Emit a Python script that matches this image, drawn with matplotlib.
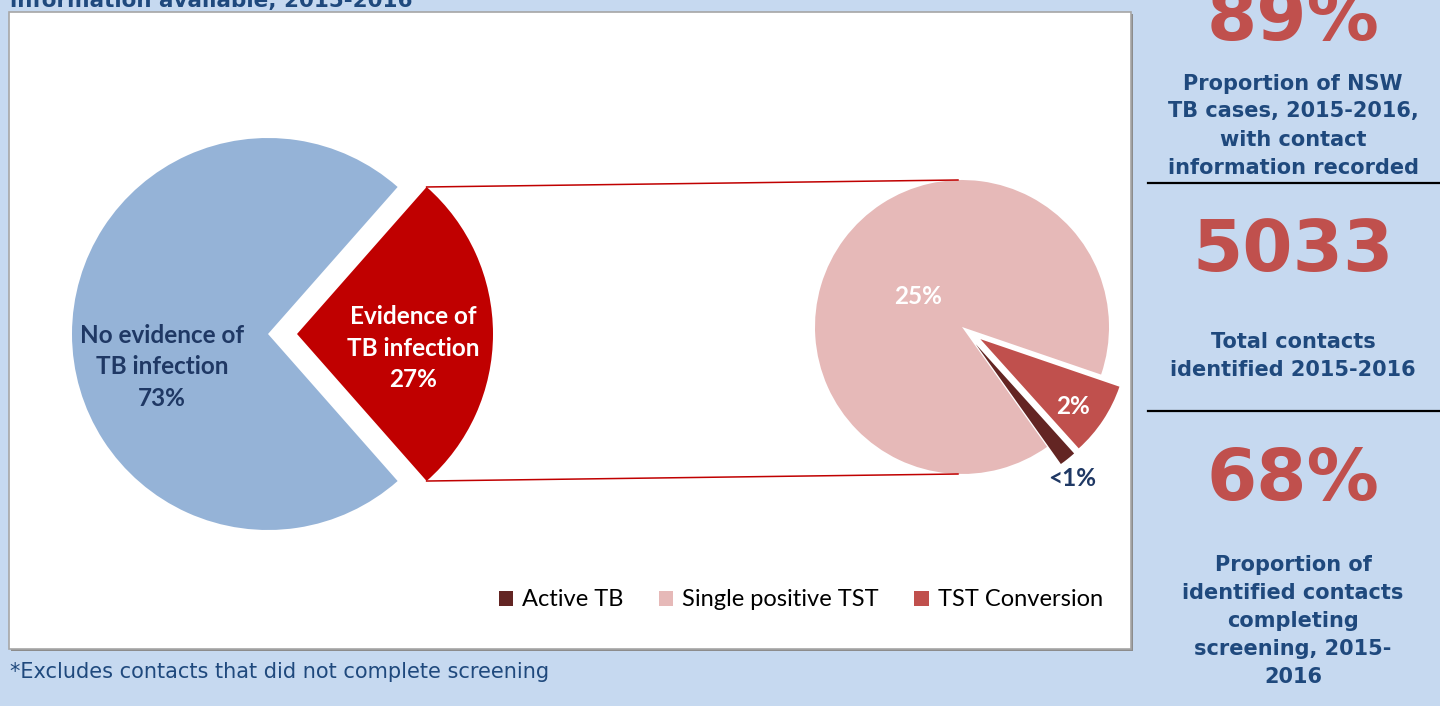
import matplotlib.pyplot as plt
from matplotlib.patches import Rectangle
from matplotlib import font_manager
import numpy as np

# main split of screened contacts
main_labels = ['No evidence of\nTB infection', 'Evidence of\nTB infection']
main_values = [73, 27]
main_colors = ['#95b3d7', '#c00000']

# breakdown of "evidence of TB infection"
sub_labels = ['Active TB', 'Single positive TST', 'TST Conversion']
sub_values = [0.5, 24.5, 2.2]
sub_text = ['<1%', '25%', '2%']
sub_colors = ['#632523', '#e6b9b8', '#c0504d']

# headline figures on the right
stat_values = ['89%', '5033', '68%']
stat_captions = ['Proportion of NSW\nTB cases, 2015-2016,\nwith contact\ninformation recorded',
                 'Total contacts\nidentified 2015-2016',
                 'Proportion of\nidentified contacts\ncompleting\nscreening, 2015-\n2016']

BG = '#c6d9f0'
NAVY = '#1f497d'
DARKNAVY = '#1f3864'
STATRED = '#c0504d'

names = {f.name for f in font_manager.fontManager.ttflist}
narrow = 'Liberation Sans Narrow' if 'Liberation Sans Narrow' in names else 'DejaVu Sans'
calibri_like = 'Lato'

W, H = 1440, 706
def Y(sy):
    return H - sy

fig = plt.figure(figsize=(W / 100, H / 100), dpi=100, facecolor=BG)
ax = fig.add_axes([0, 0, 1, 1])
ax.set_facecolor(BG)

# chart area with a small shadow
ax.add_patch(Rectangle((11, Y(651)), 1122, 637, facecolor='#8c8c8c', edgecolor='none', zorder=0))
ax.add_patch(Rectangle((9, Y(649)), 1122, 637, facecolor='white', edgecolor='#a6a6a6', lw=1.2, zorder=0.5))

# left pie
start_main = 360 * main_values[1] / sum(main_values) / 2
wl, _ = ax.pie(main_values, colors=main_colors, startangle=start_main,
               center=(268, Y(334)), radius=196, explode=[0, 29],
               wedgeprops=dict(linewidth=0))

# right pie
wr, _ = ax.pie(sub_values, colors=sub_colors, startangle=-48, counterclock=False,
               center=(962, Y(327)), radius=147, explode=[22, 0, 22],
               wedgeprops=dict(linewidth=0))

# connector lines from the exploded wedge to the breakdown pie
red = wl[1]
cx, cy = red.center
for th, end in [(red.theta2, 1), (red.theta1, -1)]:
    x0 = cx + red.r * np.cos(np.radians(th))
    y0 = cy + red.r * np.sin(np.radians(th))
    x1, y1 = 958, Y(327) + end * 147
    ax.plot([x0, x1], [y0, y1], color='#c00000', lw=1.1, zorder=3)

# pie labels
ax.text(162, Y(367), main_labels[0] + '\n' + f'{main_values[0]}%', ha='center', va='center',
        color=DARKNAVY, fontsize=17.5, fontweight='bold', family=calibri_like, linespacing=1.45)
ax.text(413, Y(348), main_labels[1] + '\n' + f'{main_values[1]}%', ha='center', va='center',
        color='white', fontsize=17.5, fontweight='bold', family=calibri_like, linespacing=1.45)
ax.text(918, Y(296), sub_text[1], ha='center', va='center', color='white',
        fontsize=17.5, fontweight='bold', family=calibri_like)
ax.text(1073, Y(406), sub_text[2], ha='center', va='center', color='white',
        fontsize=17.5, fontweight='bold', family=calibri_like)
ax.text(1072, Y(479), sub_text[0], ha='center', va='center', color=DARKNAVY,
        fontsize=17.5, fontweight='bold', family=calibri_like)

# legend
leg = ax.legend(wr, sub_labels, loc='center', bbox_to_anchor=(801, Y(600)),
                bbox_transform=ax.transData, ncol=3, frameon=False,
                prop={'family': calibri_like, 'size': 17},
                handlelength=0.6, handleheight=0.6, handletextpad=0.38,
                columnspacing=1.5)

# title (cut off) and footnote
ax.text(10, Y(7), 'information available, 2015-2016', color=NAVY, fontsize=15.5,
        fontweight='bold', va='baseline')
ax.text(10, Y(672), '*Excludes contacts that did not complete screening', color=NAVY,
        fontsize=15, family=narrow, va='center')

# right-hand panel
for val, base in zip(stat_values, [40, 271, 500]):
    ax.text(1293, Y(base), val, ha='center', va='baseline', color=STATRED,
            fontsize=52, fontweight='bold')
for cap, mid in zip(stat_captions, [125.5, 356, 621]):
    ax.text(1293, Y(mid), cap, ha='center', va='center', color=NAVY,
            fontsize=15, fontweight='bold', linespacing=1.5)
for sy in [183, 411]:
    ax.plot([1148, 1440], [Y(sy), Y(sy)], color='black', lw=1.6)

ax.set_xlim(0, W)
ax.set_ylim(0, H)
ax.axis('off')

fig.savefig('out.png', dpi=100, facecolor=BG)
